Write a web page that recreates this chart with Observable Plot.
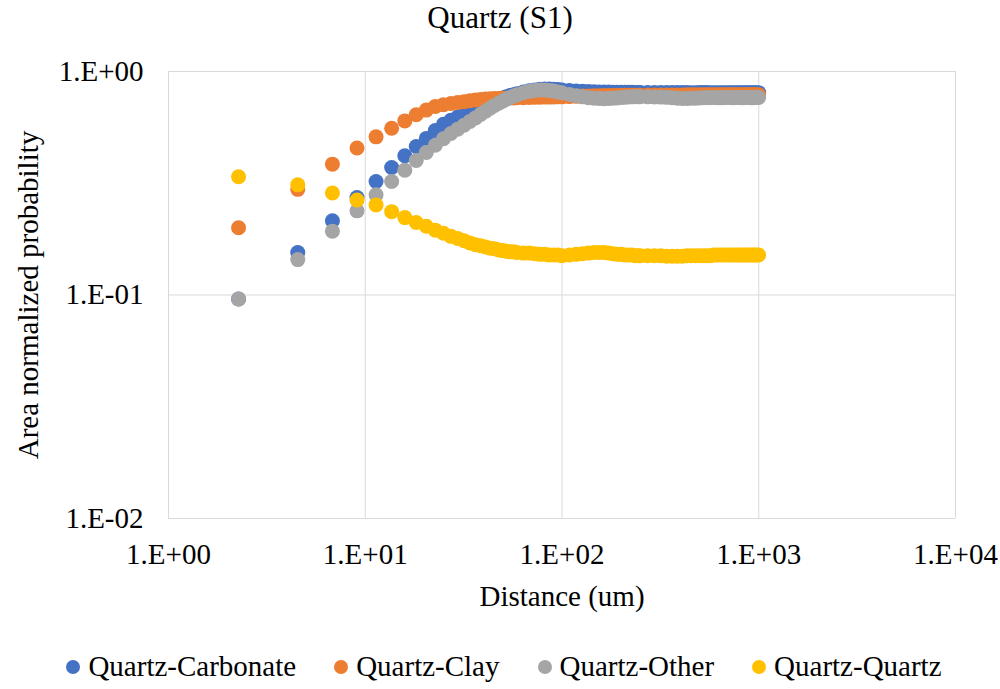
<!DOCTYPE html>
<html>
<head>
<meta charset="utf-8">
<script src="https://cdn.jsdelivr.net/npm/d3@7"></script>
<script src="https://cdn.jsdelivr.net/npm/@observablehq/plot@0.6"></script>
<style>
  html, body { margin: 0; padding: 0; background: #fff; }
  body { width: 1000px; height: 689px; overflow: hidden; font-family: "Liberation Serif", "Times New Roman", serif; color: #000; }
  #title { height: 44px; line-height: 36px; text-align: center; font-size: 31px; }
  #chart { height: 600px; }
  #legend { height: 45px; display: flex; justify-content: center; align-items: center; font-size: 29px; padding-left: 8px; }
  .item { display: flex; align-items: center; margin: 0 19px; }
  .dot { width: 14px; height: 14px; border-radius: 50%; margin-right: 8px; }
  svg text { font-family: "Liberation Serif", "Times New Roman", serif; }
</style>
</head>
<body>
<div id="title"></div>
<div id="chart"></div>
<div id="legend"></div>
<script>
const titleText = "Quartz (S1)";
const xLabel = "Distance (um)";
const yLabel = "Area normalized probability";
const seriesNames = ["Quartz-Carbonate", "Quartz-Clay", "Quartz-Other", "Quartz-Quartz"];
const seriesColors = ["#4472C4", "#ED7D31", "#A5A5A5", "#FFC000"];
const xTicks = [1, 10, 100, 1000, 10000];
const xTickLabels = ["1.E+00", "1.E+01", "1.E+02", "1.E+03", "1.E+04"];
const yTicks = [0.01, 0.1, 1];
const yTickLabels = ["1.E-02", "1.E-01", "1.E+00"];

const distance = [2.27,4.54,6.81,9.08,11.35,13.62,15.89,18.16,20.43,22.7,24.97,27.24,29.51,31.78,34.05,36.32,38.59,40.86,43.13,45.4,47.67,49.94,52.21,54.48,56.75,59.02,
63.56,68.1,72.64,77.18,81.72,86.26,90.8,95.34,99.88,
108.96,118.04,127.12,136.2,145.28,154.36,163.44,172.52,181.6,190.68,199.76,208.84,217.92,227,236.08,245.16,
249.7,272.4,295.1,317.8,340.5,363.2,385.9,408.6,431.3,454,476.7,499.4,522.1,544.8,567.5,590.2,612.9,635.6,658.3,681,703.7,726.4,749.1,771.8,794.5,817.2,839.9,862.6,885.3,908,930.7,953.4,976.1,998.8];

const carbonate = [0.096,0.155,0.215,0.273,0.322,0.372,0.420,0.462,0.502,0.544,0.580,0.605,0.625,0.643,0.661,0.678,0.694,0.709,0.723,0.737,0.750,0.761,0.771,0.780,0.788,0.796,
0.810,0.820,0.827,0.832,0.834,0.834,0.832,0.830,0.827,
0.822,0.818,0.815,0.813,0.811,0.810,0.809,0.809,0.808,0.808,0.808,0.807,0.807,0.807,0.806,0.806,
0.806,0.806,0.806,0.805,0.805,0.805,0.805,0.805,0.805,0.804,0.804,0.805,0.805,0.805,0.804,0.804,0.804,0.804,0.804,0.804,0.804,0.804,0.804,0.804,0.804,0.804,0.804,0.804,0.804,0.804,0.804,0.804,0.804,0.804];

const clay = [0.200,0.297,0.385,0.455,0.510,0.557,0.601,0.640,0.672,0.698,0.710,0.719,0.727,0.733,0.740,0.746,0.750,0.753,0.755,0.757,0.758,0.759,0.760,0.761,0.762,0.763,
0.764,0.765,0.766,0.767,0.768,0.768,0.769,0.770,0.770,
0.772,0.774,0.776,0.777,0.778,0.779,0.780,0.780,0.781,0.781,0.782,0.782,0.782,0.783,0.783,0.783,
0.783,0.784,0.784,0.784,0.785,0.785,0.785,0.785,0.786,0.786,0.786,0.786,0.786,0.786,0.787,0.787,0.787,0.787,0.787,0.787,0.787,0.787,0.787,0.787,0.787,0.787,0.787,0.787,0.787,0.787,0.787,0.787,0.787,0.787];

const other = [0.096,0.144,0.193,0.238,0.281,0.322,0.362,0.400,0.434,0.468,0.500,0.528,0.552,0.575,0.598,0.620,0.643,0.664,0.685,0.704,0.721,0.737,0.752,0.765,0.776,0.786,
0.803,0.815,0.822,0.826,0.827,0.823,0.817,0.810,0.803,
0.790,0.779,0.770,0.763,0.759,0.757,0.756,0.757,0.759,0.762,0.765,0.767,0.769,0.770,0.771,0.771,
0.771,0.770,0.769,0.768,0.766,0.763,0.760,0.758,0.758,0.759,0.760,0.762,0.763,0.764,0.764,0.765,0.764,0.763,0.764,0.765,0.765,0.764,0.764,0.765,0.765,0.764,0.764,0.765,0.765,0.764,0.764,0.765,0.765,0.765];

const quartz = [0.338,0.311,0.286,0.266,0.253,0.236,0.222,0.211,0.203,0.195,0.189,0.183,0.179,0.175,0.171,0.168,0.166,0.164,0.162,0.161,0.159,0.158,0.157,0.156,0.156,0.155,
0.154,0.154,0.153,0.152,0.152,0.151,0.151,0.151,0.150,
0.151,0.152,0.153,0.154,0.155,0.155,0.155,0.154,0.153,0.152,0.152,0.151,0.151,0.151,0.150,0.150,
0.150,0.150,0.150,0.150,0.149,0.149,0.149,0.149,0.150,0.150,0.150,0.150,0.150,0.150,0.150,0.151,0.151,0.151,0.151,0.151,0.151,0.151,0.151,0.151,0.151,0.151,0.151,0.151,0.151,0.151,0.151,0.151,0.151,0.151];

const seriesValues = [carbonate, clay, other, quartz];

const rows = [];
seriesValues.forEach((vals, s) => {
  vals.forEach((v, i) => rows.push({series: seriesNames[s], d: distance[i], v}));
});

document.getElementById("title").textContent = titleText;

const chart = Plot.plot({
  width: 1000,
  height: 600,
  marginLeft: 168,
  marginRight: 45,
  marginTop: 27,
  marginBottom: 126,
  style: {fontFamily: "'Liberation Serif', 'Times New Roman', serif", fontSize: "29px", background: "#fff", color: "#000", overflow: "visible"},
  x: {type: "log", domain: [1, 10000]},
  y: {type: "log", domain: [0.01, 1]},
  color: {domain: seriesNames, range: seriesColors},
  marks: [
    Plot.gridX(xTicks, {stroke: "#D9D9D9", strokeOpacity: 1, strokeWidth: 1}),
    Plot.gridY(yTicks, {stroke: "#D9D9D9", strokeOpacity: 1, strokeWidth: 1}),
    Plot.axisX(xTicks, {tickSize: 0, tickPadding: 25, tickFormat: d => xTickLabels[xTicks.indexOf(d)], label: xLabel, labelAnchor: "center", labelOffset: 87, labelArrow: "none"}),
    Plot.axisY(yTicks, {tickSize: 0, tickPadding: 25, tickFormat: d => yTickLabels[yTicks.indexOf(d)], label: yLabel, labelAnchor: "center", labelOffset: 151, labelArrow: "none"}),
    Plot.dot(rows, {x: "d", y: "v", fill: "series", r: 7.5, stroke: "none"})
  ]
});
document.getElementById("chart").appendChild(chart);

const legend = document.getElementById("legend");
seriesNames.forEach((name, i) => {
  const item = document.createElement("div");
  item.className = "item";
  const dot = document.createElement("span");
  dot.className = "dot";
  dot.style.background = seriesColors[i];
  const label = document.createElement("span");
  label.textContent = name;
  item.appendChild(dot);
  item.appendChild(label);
  legend.appendChild(item);
});
</script>
</body>
</html>
